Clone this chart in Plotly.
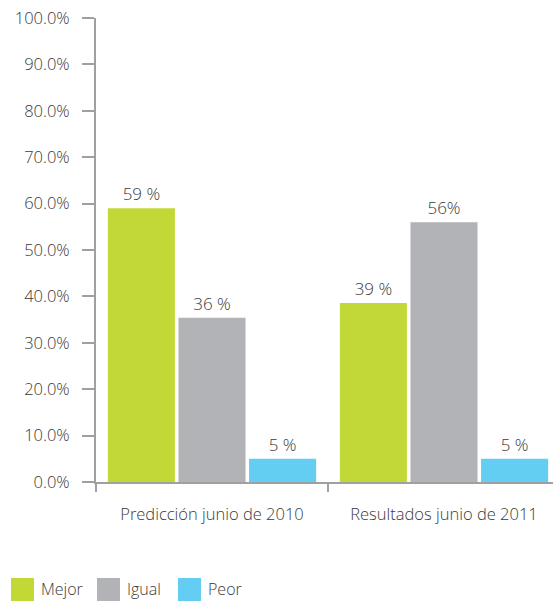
import plotly.graph_objects as go

categories = ["Predicción junio de 2010", "Resultados junio de 2011"]
series_names = ["Mejor", "Igual", "Peor"]
mejor = [59.0, 38.6]
igual = [35.4, 56.0]
peor = [5.0, 5.0]
mejor_labels = ["59 %", "39 %"]
igual_labels = ["36 %", "56%"]
peor_labels = ["5 %", "5 %"]
y_ticks = [0, 10, 20, 30, 40, 50, 60, 70, 80, 90, 100]
y_ticklabels = [f"{v:.1f}%" for v in y_ticks]

colors = ["#C1D837", "#B2B3B6", "#63CDF2"]
FONT = "Open Sans"
TXT = "#3a3a3a"
AX = "#a0a0a0"

W, H = 553, 601
L, R, T, B = 96, 0, 18, 119
pw = W - L - R
ph = H - T - B

fig = go.Figure()
for name, vals, labs, col in zip(series_names, [mejor, igual, peor],
                                 [mejor_labels, igual_labels, peor_labels], colors):
    fig.add_trace(go.Bar(
        x=categories, y=vals, name=name, marker=dict(color=col, line=dict(width=0)),
        text=labs, texttemplate="%{text}", textposition="outside",
        textfont=dict(family=FONT, size=17, color=TXT, weight=300), cliponaxis=False,
        showlegend=False, hoverinfo="skip"))

def px_x(p):
    return (p - L) / pw

def px_y(p):
    return (H - B - p) / ph

# custom legend
legend_x = [11, 97, 178]
for name, col, x0 in zip(series_names, colors, legend_x):
    fig.add_shape(type="rect", xref="paper", yref="paper",
                  x0=px_x(x0), x1=px_x(x0 + 23), y0=px_y(601), y1=px_y(578),
                  fillcolor=col, line=dict(width=0))
    fig.add_annotation(xref="paper", yref="paper", x=px_x(x0 + 28), y=px_y(589),
                       text=name, showarrow=False, xanchor="left", yanchor="middle",
                       font=dict(family=FONT, size=16, color=TXT, weight=300))

fig.update_layout(
    width=W, height=H,
    margin=dict(l=L, r=R, t=T, b=B, pad=0),
    plot_bgcolor="white", paper_bgcolor="white",
    barmode="group", bargap=0.087, bargroupgap=0.05,
    font=dict(family=FONT, size=16, color=TXT),
    showlegend=False,
)
fig.update_xaxes(
    type="category", range=[-0.5, -0.5 + pw / 232.0],
    showline=True, linecolor=AX, linewidth=2,
    ticks="outside", tickson="boundaries", ticklen=8, tickcolor=AX, tickwidth=2,
    showgrid=False, zeroline=False,
    tickfont=dict(family=FONT, size=16.5, color=TXT, weight=300), ticklabelstandoff=16,
)
fig.update_yaxes(
    range=[0, 100], tickvals=y_ticks, ticktext=y_ticklabels,
    showline=True, linecolor=AX, linewidth=2,
    ticks="outside", ticklen=12, tickcolor=AX, tickwidth=2,
    showgrid=False, zeroline=False,
    tickfont=dict(family=FONT, size=16.5, color=TXT, weight=300), ticklabelstandoff=9,
)

fig.write_html("out.html", config={"displayModeBar": False},
               post_script="document.body.style.margin='0';document.body.style.overflow='hidden';")
